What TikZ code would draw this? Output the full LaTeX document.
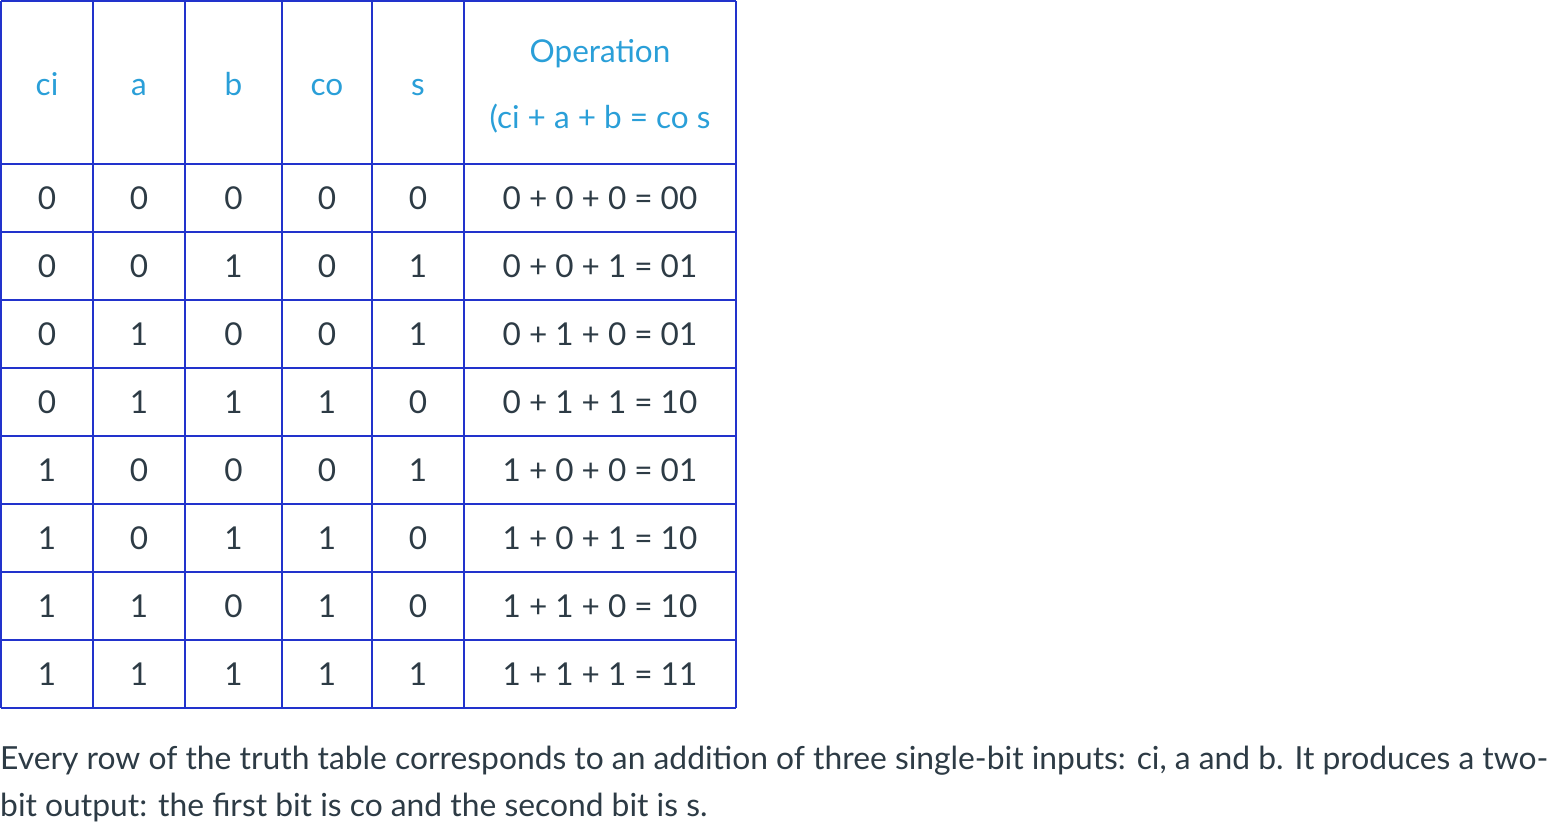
\documentclass[tikz,border=0pt]{standalone}
\usepackage{fontspec}
\setmainfont{Lato}
\definecolor{grid}{HTML}{2233CC}
\definecolor{head}{HTML}{2A9FD8}
\definecolor{body}{HTML}{2D3B45}
\begin{document}
\begin{tikzpicture}[x=1pt,y=-1pt,
  cell/.style={font=\fontsize{31.5}{36}\selectfont,text=body,inner sep=0pt,anchor=base},
  hcell/.style={font=\fontsize{31.5}{36}\selectfont,text=head,inner sep=0pt,anchor=base},
  para/.style={font=\fontsize{31.8}{36}\selectfont,text=body,inner sep=0pt,anchor=base west}]
\useasboundingbox (0,0) rectangle (1566,840);
\foreach \x in {1,93,185,282,372,464,736} \draw[grid,line width=1.6pt] (\x,1) -- (\x,708);
\foreach \y in {1,164,232,300,368,436,504,572,640,708} \draw[grid,line width=1.6pt] (1,\y) -- (736,\y);
\node[hcell] (h1) at (47,96) {ci};
\node[hcell] (h2) at (139,96) {a};
\node[hcell] (h3) at (233.5,96) {b};
\node[hcell] (h4) at (327,96) {co};
\node[hcell] (h5) at (418,96) {s};
\node[hcell] (h6) at (600,63) {Operation};
\node[hcell] (h7) at (600,129) {(ci + a + b = co s};
\foreach [count=\i] \c/\a/\b/\co/\s/\o in {0/0/0/0/0/{0 + 0 + 0 = 00},0/0/1/0/1/{0 + 0 + 1 = 01},0/1/0/0/1/{0 + 1 + 0 = 01},0/1/1/1/0/{0 + 1 + 1 = 10},1/0/0/0/1/{1 + 0 + 0 = 01},1/0/1/1/0/{1 + 0 + 1 = 10},1/1/0/1/0/{1 + 1 + 0 = 10},1/1/1/1/1/{1 + 1 + 1 = 11}}{
  \pgfmathsetmacro\yy{209.5+68*(\i-1)}
  \node[cell] (c\i) at (47,\yy) {\c};
  \node[cell] (a\i) at (139,\yy) {\a};
  \node[cell] (b\i) at (233.5,\yy) {\b};
  \node[cell] (co\i) at (327,\yy) {\co};
  \node[cell] (s\i) at (418,\yy) {\s};
  \node[cell] (o\i) at (600,\yy) {\o};
}
\node[para] (p1) at (0,769) {Every row of the truth table corresponds to an addition of three single-bit inputs: ci, a and b. It produces a two-};
\node[para] (p2) at (0,816) {bit output: the first bit is co and the second bit is s.};
\end{tikzpicture}
\end{document}
